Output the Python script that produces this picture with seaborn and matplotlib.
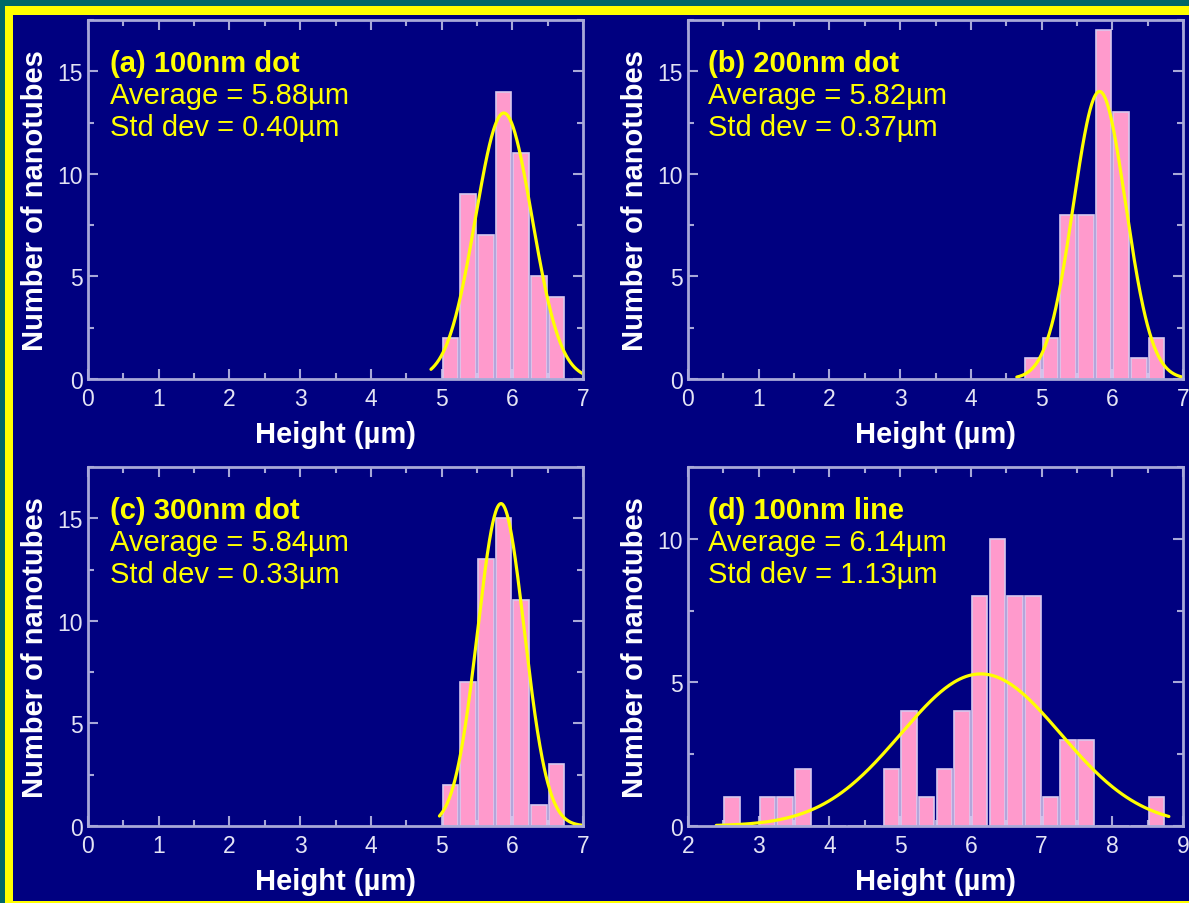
import matplotlib
matplotlib.use('Agg')
import matplotlib.pyplot as plt
import seaborn as sns
import numpy as np
import pandas as pd
from matplotlib.patches import Rectangle
from matplotlib.ticker import MultipleLocator

# Histogram data (bin width 0.25 um)
bin_width = 0.25

a_start = 5.0
a_counts = [2, 9, 7, 14, 11, 5, 4]

b_start = 4.75
b_counts = [1, 2, 8, 8, 17, 13, 1, 2]

c_start = 5.0
c_counts = [2, 7, 13, 15, 11, 1, 3]

d_start = 2.5
d_counts = [1, 0, 1, 1, 2, 0, 0, 0, 0, 2, 4, 1, 2, 4, 8, 10, 8, 8, 1, 3, 3, 0, 0, 0, 1]

titles = ['(a) 100nm dot', '(b) 200nm dot', '(c) 300nm dot', '(d) 100nm line']
means = [5.88, 5.82, 5.84, 6.14]
stds = [0.40, 0.37, 0.33, 1.13]
fit_ranges = [(4.85, 7.0), (4.65, 6.98), (4.97, 7.0), (2.4, 8.8)]
xlims = [(0, 7), (0, 7), (0, 7), (2, 9)]
ylims = [17.5, 17.5, 17.5, 12.5]

NAVY = '#000080'
TEAL = '#006868'
YELLOW = '#ffff00'
FRAME = '#a8a8d8'
TICKTXT = '#e4e4f4'
PINK = '#ff9acc'

sns.set_theme(style='white')
plt.rcParams['font.family'] = ['Liberation Sans', 'DejaVu Sans']

fig = plt.figure(figsize=(11.89, 9.04), dpi=100)
fig.patch.set_facecolor(TEAL)
W, H = 1189.0, 904.0
fig.patches.append(Rectangle((5 / W, 0), 1.2, 1 - 7 / H, transform=fig.transFigure,
                             facecolor=YELLOW, edgecolor='none', zorder=-2))
fig.patches.append(Rectangle((13 / W, 2 / H), 1.2, 1 - 18 / H, transform=fig.transFigure,
                             facecolor=NAVY, edgecolor='none', zorder=-1))

positions = [(88, 21), (688, 21), (88, 468), (688, 468)]
aw, ah = 495, 359

datasets = [(a_start, a_counts), (b_start, b_counts), (c_start, c_counts), (d_start, d_counts)]

for i, (start, counts) in enumerate(datasets):
    px, py = positions[i]
    ax = fig.add_axes([px / W, 1 - (py + ah) / H, aw / W, ah / H])
    ax.set_facecolor(NAVY)

    counts = np.array(counts, dtype=float)
    edges = [start + bin_width * k for k in range(len(counts) + 1)]
    df = pd.DataFrame({'height': [e + bin_width / 2 for e in edges[:-1]], 'count': counts})
    sns.histplot(data=df, x='height', weights='count', bins=edges, ax=ax, shrink=0.88,
                 color=PINK, alpha=1, edgecolor='#d8c8ee', linewidth=1.2)

    # gaussian fit curve
    n = counts.sum()
    xs = np.linspace(fit_ranges[i][0], fit_ranges[i][1], 300)
    ys = n * bin_width / (stds[i] * np.sqrt(2 * np.pi)) * np.exp(-0.5 * ((xs - means[i]) / stds[i]) ** 2)
    sns.lineplot(x=xs, y=ys, ax=ax, color=YELLOW, linewidth=2.3)

    ax.set_xlim(*xlims[i])
    ax.set_ylim(0, ylims[i])
    ax.xaxis.set_major_locator(MultipleLocator(1))
    ax.xaxis.set_minor_locator(MultipleLocator(0.5))
    ax.yaxis.set_major_locator(MultipleLocator(5))
    ax.yaxis.set_minor_locator(MultipleLocator(2.5))
    ax.tick_params(which='both', direction='in', top=True, right=True, bottom=True, left=True,
                   color=FRAME, width=1.5, labelcolor=TICKTXT, labelsize=16.5)
    ax.tick_params(axis='x', pad=6)
    ax.tick_params(axis='y', pad=4)
    ax.tick_params(which='major', length=7)
    ax.tick_params(which='minor', length=4)
    for sp in ax.spines.values():
        sp.set_color(FRAME)
        sp.set_linewidth(2)
        sp.set_visible(True)

    ax.set_xlabel('Height (µm)', fontsize=21, fontweight='bold', color='white', labelpad=7)
    ax.set_ylabel('Number of nanotubes', fontsize=21, fontweight='bold', color='white', labelpad=6)

    tx = 0.044 if i % 2 == 0 else 0.04
    ax.text(tx, 0.879, titles[i], transform=ax.transAxes, fontsize=21, fontweight='bold',
            color=YELLOW, va='center', ha='left')
    ax.text(tx, 0.790, f'Average = {means[i]:.2f}µm', transform=ax.transAxes, fontsize=21,
            color=YELLOW, va='center', ha='left')
    ax.text(tx, 0.703, f'Std dev = {stds[i]:.2f}µm', transform=ax.transAxes, fontsize=21,
            color=YELLOW, va='center', ha='left')

fig.savefig('out.png', dpi=100, facecolor=fig.get_facecolor())
